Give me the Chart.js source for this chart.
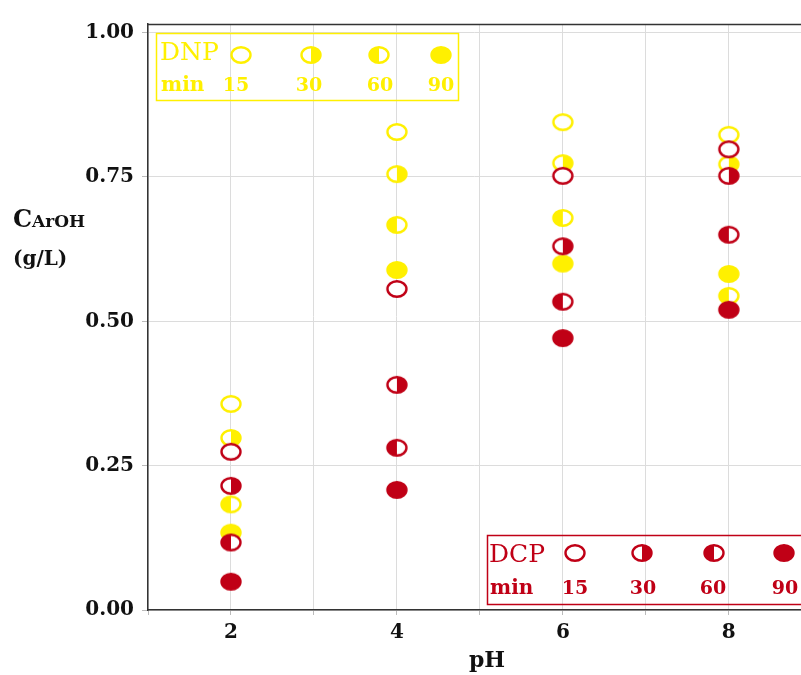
<!DOCTYPE html>
<html>
<head>
<meta charset="utf-8">
<script src="https://cdn.jsdelivr.net/npm/chart.js@4"></script>
<style>
  body { margin: 0; background: #fff; }
  canvas { display: block; }
</style>
</head>
<body>
<canvas id="phChart" width="801" height="675"></canvas>
<script>
const phValues = [2, 4, 6, 8];
const minutes = ["15", "30", "60", "90"];
// DNP concentration (g/L) after 15/30/60/90 min
const dnp15 = [0.357, 0.828, 0.845, 0.823];
const dnp30 = [0.298, 0.755, 0.774, 0.772];
const dnp60 = [0.183, 0.667, 0.679, 0.544];
const dnp90 = [0.134, 0.589, 0.600, 0.582];
// DCP concentration (g/L)
const dcp15 = [0.274, 0.556, 0.752, 0.798];
const dcp30 = [0.215, 0.390, 0.630, 0.752];
const dcp60 = [0.117, 0.281, 0.534, 0.650];
const dcp90 = [0.049, 0.208, 0.471, 0.520];
const yTicks = [0, 0.25, 0.5, 0.75, 1];

const YELLOW = "#FFF000";
const RED = "#C00016";

// open / right half / left half / full ellipse
function drawMarker(ctx, cx, cy, color, kind) {
    const rx = 9.5, ry = 7.8;
    ctx.save();
    ctx.beginPath();
    ctx.ellipse(cx, cy, rx, ry, 0, 0, Math.PI * 2);
    ctx.fillStyle = "#fff";
    ctx.fill();
    ctx.fillStyle = color;
    if (kind === "90") {
        ctx.fill();
    } else if (kind === "30") {
        ctx.beginPath();
        ctx.ellipse(cx, cy, rx, ry, 0, -Math.PI / 2, Math.PI / 2);
        ctx.closePath();
        ctx.fill();
    } else if (kind === "60") {
        ctx.beginPath();
        ctx.ellipse(cx, cy, rx, ry, 0, Math.PI / 2, Math.PI * 1.5);
        ctx.closePath();
        ctx.fill();
    }
    ctx.beginPath();
    ctx.ellipse(cx, cy, rx, ry, 0, 0, Math.PI * 2);
    ctx.strokeStyle = color;
    ctx.lineWidth = 2.4;
    ctx.stroke();
    ctx.restore();
}

function markerImage(color, kind) {
    const c = document.createElement("canvas");
    c.width = 26;
    c.height = 22;
    drawMarker(c.getContext("2d"), 13, 11, color, kind);
    return c;
}

function makeSet(label, values, color, kind, order) {
    return {
        label: label,
        data: phValues.map((x, i) => ({ x: x, y: values[i] })),
        pointStyle: markerImage(color, kind),
        showLine: false,
        order: order,
    };
}

const overlayPlugin = {
    id: "overlay",
    afterDraw(chart) {
        const ctx = chart.ctx;
        const area = chart.chartArea;
        ctx.save();
        // top frame line
        ctx.strokeStyle = "#333";
        ctx.lineWidth = 1.5;
        ctx.beginPath();
        ctx.moveTo(area.left, area.top + 0.5);
        ctx.lineTo(chart.width, area.top + 0.5);
        ctx.stroke();

        // DNP legend
        ctx.strokeStyle = YELLOW;
        ctx.lineWidth = 1.5;
        ctx.strokeRect(156.5, 33.5, 302, 67);
        ctx.fillStyle = YELLOW;
        ctx.textBaseline = "alphabetic";
        ctx.textAlign = "left";
        ctx.font = "25px 'DejaVu Serif'";
        ctx.fillText("DNP", 160, 60);
        ctx.font = "bold 20px 'DejaVu Serif'";
        ctx.fillText("min", 161, 91);
        ctx.textAlign = "center";
        ctx.font = "bold 19px 'DejaVu Serif'";
        [236, 309, 380, 441].forEach((x, i) => {
            drawMarker(ctx, [241, 311, 379, 441][i], 55, YELLOW, minutes[i]);
            ctx.fillStyle = YELLOW;
            ctx.fillText(minutes[i], x, 91);
        });

        // DCP legend
        ctx.strokeStyle = RED;
        ctx.lineWidth = 1.5;
        ctx.strokeRect(487.5, 535.5, 330, 69);
        ctx.fillStyle = RED;
        ctx.textAlign = "left";
        ctx.font = "25px 'DejaVu Serif'";
        ctx.fillText("DCP", 489, 562);
        ctx.font = "bold 20px 'DejaVu Serif'";
        ctx.fillText("min", 490, 594);
        ctx.textAlign = "center";
        ctx.font = "bold 19px 'DejaVu Serif'";
        [575, 643, 713, 785].forEach((x, i) => {
            drawMarker(ctx, [575, 642, 714, 784][i], 553, RED, minutes[i]);
            ctx.fillStyle = RED;
            ctx.fillText(minutes[i], x, 594);
        });

        // axis titles
        ctx.fillStyle = "#111";
        ctx.textAlign = "left";
        ctx.font = "bold 24px 'DejaVu Serif'";
        ctx.fillText("C", 13, 227);
        const cw = ctx.measureText("C").width;
        ctx.font = "bold 17px 'DejaVu Serif'";
        ctx.fillText("ArOH", 13 + cw, 227);
        ctx.font = "bold 20px 'DejaVu Serif'";
        ctx.fillText("(g/L)", 13, 265);
        ctx.textAlign = "center";
        ctx.font = "bold 22px 'DejaVu Serif'";
        ctx.fillText("pH", 487, 667);
        ctx.restore();
    },
};

const ctx = document.getElementById("phChart").getContext("2d");
new Chart(ctx, {
    type: "scatter",
    data: {
        datasets: [
            makeSet("DNP 15", dnp15, YELLOW, "15", 8),
            makeSet("DNP 30", dnp30, YELLOW, "30", 7),
            makeSet("DNP 60", dnp60, YELLOW, "60", 6),
            makeSet("DNP 90", dnp90, YELLOW, "90", 5),
            makeSet("DCP 15", dcp15, RED, "15", 4),
            makeSet("DCP 30", dcp30, RED, "30", 3),
            makeSet("DCP 60", dcp60, RED, "60", 2),
            makeSet("DCP 90", dcp90, RED, "90", 1),
        ],
    },
    options: {
        responsive: false,
        animation: false,
        layout: {
            autoPadding: false,
            padding: { top: 24, right: 0, left: 0, bottom: 0 },
        },
        plugins: {
            legend: { display: false },
            tooltip: { enabled: false },
        },
        scales: {
            x: {
                type: "linear",
                min: 1,
                max: 8.87,
                afterBuildTicks: (scale) => {
                    scale.ticks = [1, 2, 3, 4, 5, 6, 7, 8].map((v) => ({ value: v }));
                },
                afterFit: (scale) => {
                    scale.height = 65;
                },
                ticks: {
                    callback: (v) => (v % 2 === 0 ? String(v) : ""),
                    font: { family: "DejaVu Serif", size: 20, weight: "bold" },
                    color: "#111",
                    padding: 6,
                    maxRotation: 0,
                    autoSkip: false,
                },
                grid: {
                    color: "#dcdcdc",
                    tickColor: "#bbb",
                    tickLength: 5,
                },
                border: { color: "#333", width: 1.5 },
            },
            y: {
                min: 0,
                max: 1.015,
                afterBuildTicks: (scale) => {
                    scale.ticks = yTicks.map((v) => ({ value: v }));
                },
                afterFit: (scale) => {
                    scale.width = 148;
                },
                ticks: {
                    callback: (v) => v.toFixed(2),
                    font: { family: "DejaVu Serif", size: 20, weight: "bold" },
                    color: "#111",
                    padding: 8,
                },
                grid: {
                    color: "#dcdcdc",
                    tickColor: "#bbb",
                    tickLength: 6,
                },
                border: { color: "#333", width: 1.5 },
            },
        },
    },
    plugins: [overlayPlugin],
});
</script>
</body>
</html>
